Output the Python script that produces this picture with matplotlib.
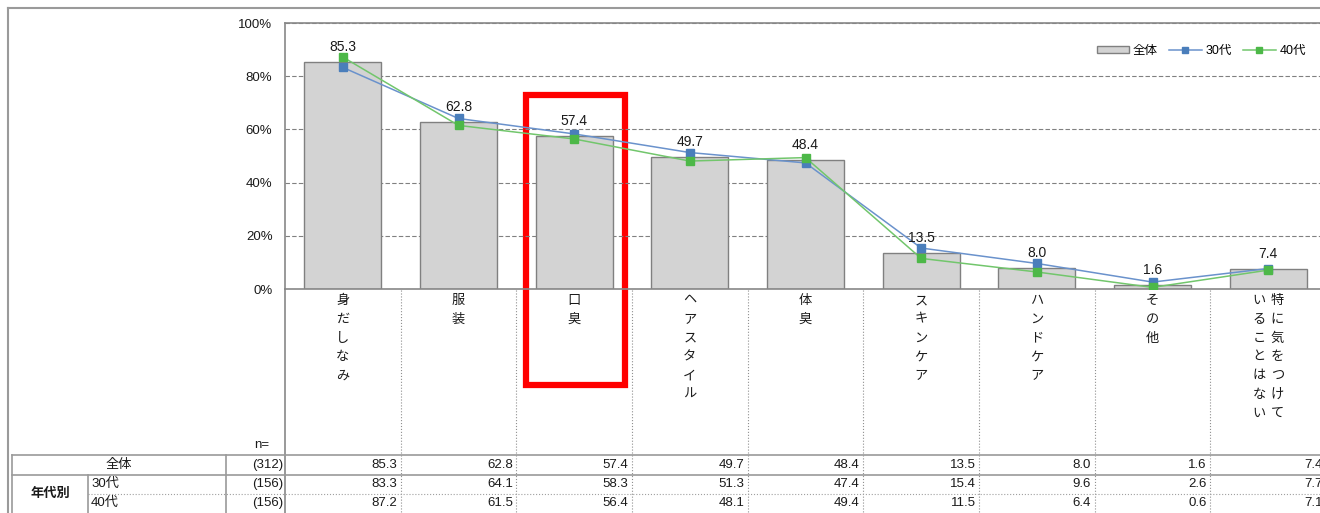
import matplotlib
matplotlib.use('Agg')
import matplotlib.pyplot as plt
from matplotlib.transforms import blended_transform_factory
from matplotlib.lines import Line2D
from matplotlib.patches import Patch, Rectangle

categories = ['身だしなみ', '服装', '口臭', 'ヘアスタイル', '体臭', 'スキンケア',
              'ハンドケア', 'その他', '特に気をつけていることはない']
total = [85.3, 62.8, 57.4, 49.7, 48.4, 13.5, 8.0, 1.6, 7.4]
age30 = [83.3, 64.1, 58.3, 51.3, 47.4, 15.4, 9.6, 2.6, 7.7]
age40 = [87.2, 61.5, 56.4, 48.1, 49.4, 11.5, 6.4, 0.6, 7.1]
row_labels = ['全体', '30代', '40代']
row_n = ['(312)', '(156)', '(156)']
group_label = '年代別'
highlight = '口臭'
yticks = [0, 20, 40, 60, 80, 100]

plt.rcParams['font.family'] = ['Liberation Sans', 'Noto Sans CJK JP']

W, H = 1320, 513
TXT = '#1a1a1a'
FRAME = '#9a9a9a'
BLUE, BLUE_L = '#4a7ebb', '#6a92cc'
GREEN, GREEN_L = '#4db848', '#72c66c'


def main():
    fig = plt.figure(figsize=(W / 100, H / 100), dpi=100)

    # pixel overlay for frames / table
    lay = fig.add_axes([0, 0, 1, 1], zorder=0)
    lay.set_xlim(0, W)
    lay.set_ylim(H, 0)
    lay.axis('off')

    ax = fig.add_axes([285 / W, 1 - 289 / H, 1041 / W, 266 / H], zorder=1)
    ax.patch.set_alpha(0)
    x = list(range(len(categories)))

    ax.bar(x, total, width=0.665, color='#d3d3d3', edgecolor='#808080', linewidth=1, zorder=2)
    ax.plot(x, age30, color=BLUE_L, lw=1.1, marker='s', ms=6, mfc=BLUE, mec=BLUE, zorder=3)
    ax.plot(x, age40, color=GREEN_L, lw=1.1, marker='s', ms=6, mfc=GREEN, mec=GREEN, zorder=4)
    for i, v in enumerate(total):
        ax.annotate(f'{v:.1f}', (i, v), xytext=(0, 8), textcoords='offset points',
                    ha='center', va='baseline', fontsize=10, color=TXT, zorder=5)

    ax.set_xlim(-0.5, len(categories) - 0.5)
    ax.set_ylim(0, 100)
    ax.set_xticks([])
    ax.set_yticks(yticks)
    ax.set_yticklabels([f'{t}%' for t in yticks])
    ax.tick_params(axis='y', length=0, pad=9, labelsize=9.5, labelcolor=TXT)
    ax.yaxis.grid(True, ls=(0, (4, 2)), color='#808080', lw=0.8)
    ax.set_axisbelow(True)
    for s in ['left', 'top', 'bottom']:
        ax.spines[s].set_color('#888888')
        ax.spines[s].set_linewidth(1.2)
    ax.spines['right'].set_visible(False)

    handles = [
        Patch(facecolor='#d3d3d3', edgecolor='#808080', label='全体'),
        Line2D([], [], color=BLUE_L, lw=1.1, marker='s', ms=5, mfc=BLUE, mec=BLUE, label='30代'),
        Line2D([], [], color=GREEN_L, lw=1.1, marker='s', ms=5, mfc=GREEN, mec=GREEN, label='40代'),
    ]
    ax.legend(handles=handles, loc='center right', bbox_to_anchor=(1312 / W, 1 - 51 / H),
              bbox_transform=fig.transFigure, ncol=3, frameon=False, fontsize=9,
              handlelength=2.6, handletextpad=0.3, columnspacing=0.9, borderpad=0,
              handleheight=0.5)

    bt = blended_transform_factory(ax.transData, lay.transData)

    # outer frame
    lay.plot([8, W], [8, 8], color=FRAME, lw=1.5)
    lay.plot([8, 8], [8, H], color=FRAME, lw=1.5)

    # vertical category labels
    step = 18.8
    for i, lab in enumerate(categories):
        cols = [lab[k:k + 7] for k in range(0, len(lab), 7)]
        n = len(cols)
        for c, chunk in enumerate(cols):
            dx = (n - 1) / 2 - c
            for k, ch in enumerate(chunk):
                lay.text(i + dx * 0.157, 301 + k * step, ch, transform=bt, ha='center', va='center',
                         fontsize=9.5, color=TXT)

    # separators
    for i in range(len(categories) - 1):
        lay.plot([i + 0.5, i + 0.5], [290, H], transform=bt, color='#909090', lw=0.8, ls=':')
    lay.plot([285, 285], [289, H], color='#888888', lw=1.2)

    # table grid
    lay.plot([12, W], [455, 455], color=FRAME, lw=1.2)
    lay.plot([12, W], [475, 475], color=FRAME, lw=1.2)
    lay.plot([88, W], [494, 494], color='#a0a0a0', lw=0.8, ls=':')
    lay.plot([12, 12], [455, H], color=FRAME, lw=1.2)
    lay.plot([88, 88], [475, H], color=FRAME, lw=1.2)
    lay.plot([226, 226], [455, H], color=FRAME, lw=1.2)

    fs = 9.5
    lay.text(262, 445, 'n=', ha='center', va='center', fontsize=fs, color=TXT)
    lay.text(119, 465, row_labels[0], ha='center', va='center', fontsize=fs, color=TXT)
    lay.text(50, 494, group_label, ha='center', va='center', fontsize=fs, color=TXT,
             fontweight='bold')
    row_y = [465, 484, 503]
    for r in (1, 2):
        lay.text(91, row_y[r], row_labels[r], ha='left', va='center', fontsize=fs, color=TXT)
    for r, nn in enumerate(row_n):
        lay.text(283, row_y[r], nn, ha='right', va='center', fontsize=fs, color=TXT)
    for r, series in enumerate([total, age30, age40]):
        for i, v in enumerate(series):
            lay.text(i + 0.47, row_y[r], f'{v:.1f}', transform=bt, ha='right', va='center',
                     fontsize=fs, color=TXT)

    # red highlight box around one category
    hi = categories.index(highlight)
    lay.add_patch(Rectangle((hi - 0.42, 95), 0.86, 290, transform=bt, fill=False,
                            edgecolor='#ff0000', lw=4.5, zorder=10, clip_on=False))

    fig.savefig('out.png', dpi=100)
    plt.close()


if __name__ == '__main__':
    main()
